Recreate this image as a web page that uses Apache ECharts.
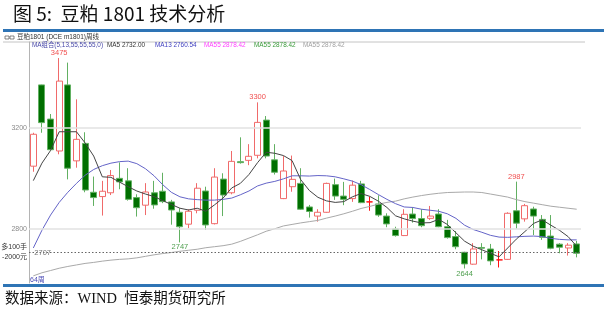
<!DOCTYPE html>
<html><head><meta charset="utf-8">
<script src="https://cdn.jsdelivr.net/npm/echarts@6/dist/echarts.min.js"></script>
<style>html,body{margin:0;padding:0;background:#fff;}#c{width:607px;height:311px;}</style>
</head><body><div id="c"></div>
<script>
// ---- data (weekly candles, DCE m1801) ----
const categories = Array.from({length: 64}, (_, i) => 'W' + (i + 1));
const opens  = [3048,3369,3234,3108,3369,3069,3138,2945,2928,2943,3000,2990,2924,2894,2943,2949,2907,2866,2819,2874,2950,2821,2997,2943,3066,3071,3091,3230,3073,2920,2967,2980,2887,2851,2866,2975,2930,2920,2978,2907,2899,2851,2800,2774,2859,2841,2842,2859,2809,2770,2708,2661,2727,2721,2678,2680,2872,2840,2879,2838,2772,2740,2725,2741];
const closes = [3174,3220,3113,3384,3040,3154,2954,2924,2949,3011,2986,2917,2884,2946,2895,2908,2875,2809,2870,2961,2816,3005,2934,3067,3062,3087,3221,3088,3024,3029,2996,2878,2869,2866,2980,2930,2917,2973,2904,2907,2855,2820,2774,2858,2841,2813,2851,2809,2766,2730,2662,2721,2724,2674,2678,2862,2823,2892,2851,2767,2724,2728,2736,2704];
const lows   = [3026,3180,3110,3095,2996,3042,2945,2891,2853,2934,2957,2912,2849,2855,2880,2902,2817,2747,2803,2862,2796,2818,2851,2937,3058,3052,3079,3079,3015,2918,2947,2875,2845,2829,2864,2915,2894,2907,2902,2872,2848,2807,2770,2772,2825,2807,2836,2807,2762,2720,2644,2659,2680,2657,2648,2678,2801,2829,2776,2757,2720,2704,2695,2688];
const highs  = [3180,3370,3254,3475,3457,3312,3182,3007,2990,3033,3063,3040,2937,2981,2990,3022,2915,2882,2878,2981,2967,3040,3020,3108,3162,3135,3300,3246,3135,3088,3090,3040,2895,2878,2983,2999,2986,2991,2990,2928,2933,2862,2809,2878,2886,2878,2891,2878,2836,2792,2710,2744,2744,2741,2713,2866,2987,2899,2888,2855,2855,2744,2744,2753];
const ma5  = [2991,3060,3110,3184,3184,3184,3140,3088,3006,3004,2985,2967,2950,2938,2928,2912,2897,2882,2875,2882,2870,2895,2922,2962,2980,3015,3062,3103,3099,3090,3070,2995,2952,2925,2911,2905,2908,2927,2940,2929,2910,2885,2852,2840,2831,2824,2825,2838,2818,2785,2752,2732,2718,2704,2690,2725,2760,2790,2822,2836,2815,2795,2770,2732];
const ma13 = [2725,2795,2855,2905,2945,2980,3012,3035,3050,3060,3066,3068,3058,3038,3010,2975,2945,2927,2919,2916,2914,2914,2917,2922,2935,2950,2970,2981,2988,2998,3010,3010,3009,3011,3010,3006,2998,2989,2975,2956,2936,2917,2900,2887,2885,2878,2874,2870,2860,2842,2815,2798,2787,2775,2768,2767,2769,2771,2772,2770,2763,2759,2757,2757];
const ma55 = [2615,2627,2636,2645,2652,2658,2664,2668,2673,2677,2680,2682,2686,2692,2698,2703,2707,2712,2716,2720,2726,2730,2734,2740,2751,2764,2777,2791,2801,2812,2818,2824,2829,2834,2843,2851,2860,2870,2881,2889,2898,2905,2910,2919,2926,2932,2937,2941,2944,2945,2946,2946,2944,2938,2932,2926,2916,2908,2902,2896,2890,2886,2882,2878];
const yTicks = [3200, 2800];
const refValue = 2707;
const highMarkIdx = [3, 26, 56];
const lowMarkIdx = [17, 50];
const titleText = '图 5:  豆粕 1801 技术分析';
const headerText = '豆粕1801 (DCE m1801)周线';
const legendTexts = ['MA组合(5,13,55,55,55,0)', 'MA5 2732.00', 'MA13 2760.54', 'MA55 2878.42', 'MA55 2878.42', 'MA55 2878.42'];
const refNote = '多100手\n-2000元';
const periodText = '64周';
const sourceText = '数据来源：WIND  恒泰期货研究所';

// ---- chart ----
const chart = echarts.init(document.getElementById('c'), null, {renderer: 'canvas'});
const ohlc = opens.map((o, i) => [o, closes[i], lows[i], highs[i]]);
const small = '"Liberation Sans", "Noto Sans CJK SC", sans-serif';
const legendX = [32, 107, 155, 204, 254, 303];
const legendColors = ['#4848a8', '#333333', '#4040c0', '#ff40ff', '#3a9a3a', '#a0a0a0'];

const graphics = [
  {type: 'text', left: 13, top: 4, style: {text: titleText, font: '19px "Noto Sans CJK SC"', fill: '#111'}},
  {type: 'rect', shape: {x: 3, y: 29, width: 601, height: 3}, style: {fill: '#2e74b5'}},
  {type: 'rect', shape: {x: 5, y: 36, width: 4, height: 3}, style: {fill: 'none', stroke: '#555', lineWidth: 0.7}},
  {type: 'rect', shape: {x: 10, y: 36, width: 4, height: 3}, style: {fill: 'none', stroke: '#555', lineWidth: 0.7}},
  {type: 'text', x: 17, y: 37.5, style: {text: headerText, font: '6.5px ' + small, fill: '#333', verticalAlign: 'middle'}},
  {type: 'line', shape: {x1: 3, y1: 42, x2: 585, y2: 42}, style: {stroke: '#c4c4c4', lineWidth: 1}},
  {type: 'text', x: 30, y: 280, style: {text: periodText, font: '7px ' + small, fill: '#4a4ab5', verticalAlign: 'middle'}},
  {type: 'rect', shape: {x: 3, y: 284, width: 601, height: 3}, style: {fill: '#2e74b5'}},
  {type: 'text', x: 5, y: 299, style: {text: sourceText, font: '14.5px "Liberation Serif", "Noto Sans CJK SC"', fill: '#111', verticalAlign: 'middle'}}
];
legendTexts.forEach((t, i) => {
  graphics.push({type: 'text', x: legendX[i], y: 45.5, style: {text: t, font: '6.4px ' + small, fill: legendColors[i], verticalAlign: 'middle'}});
});

const markLines = yTicks.map(v => ({
  yAxis: v,
  lineStyle: {color: '#e2e2e2', width: 1.5, type: 'solid'},
  label: {show: true, position: 'start', distance: 2, formatter: String(v), color: '#8a8a8a', fontSize: 7, fontFamily: 'Liberation Sans'}
}));
markLines.push({
  yAxis: refValue,
  lineStyle: {color: '#666', width: 1, type: [1.5, 2]},
  label: {show: true, position: 'start', distance: 2, formatter: refNote, color: '#333', fontSize: 7, lineHeight: 10, fontFamily: 'Liberation Sans, Noto Sans CJK SC'}
});

const markPoints = [];
highMarkIdx.forEach(i => markPoints.push({
  coord: [categories[i], highs[i]], value: highs[i],
  label: {position: 'top', distance: 1, color: '#f05050'}
}));
lowMarkIdx.forEach(i => markPoints.push({
  coord: [categories[i], lows[i]], value: lows[i],
  label: {position: 'bottom', distance: 1, color: '#4f9f4f'}
}));
markPoints.push({
  coord: [categories[0], refValue], value: refValue,
  label: {position: 'right', distance: 1, color: '#777'}
});

chart.setOption({
  animation: false,
  backgroundColor: '#fff',
  graphic: graphics,
  grid: {left: 29, right: 26, top: 42, bottom: 28},
  xAxis: {
    type: 'category', data: categories, boundaryGap: true,
    axisLine: {show: false}, axisTick: {show: false}, axisLabel: {show: false}, splitLine: {show: false}
  },
  yAxis: {
    type: 'value', min: 2586.7, max: 3538.4, scale: true,
    axisLine: {show: true, lineStyle: {color: '#b4b4b4', width: 1}},
    axisTick: {show: false}, axisLabel: {show: false}, splitLine: {show: false}
  },
  series: [
    {
      type: 'candlestick', data: ohlc, barWidth: 6.5,
      itemStyle: {
        color: '#ffffff', color0: '#006f00',
        borderColor: '#f06a6a', borderColor0: '#62b062',
        borderColorDoji: '#ff1010', borderWidth: 1
      },
      markLine: {silent: true, symbol: 'none', data: markLines, animation: false},
      markPoint: {
        silent: true, symbol: 'circle', symbolSize: 0,
        itemStyle: {color: 'transparent'},
        label: {show: true, fontSize: 7.5, fontFamily: 'Liberation Sans', formatter: p => String(p.value)},
        data: markPoints, animation: false
      }
    },
    {type: 'line', data: ma55, showSymbol: false, symbol: 'none', lineStyle: {color: '#a9a9a9', width: 1}},
    {type: 'line', data: ma13, showSymbol: false, symbol: 'none', lineStyle: {color: '#6464c8', width: 1}},
    {type: 'line', data: ma5, showSymbol: false, symbol: 'none', lineStyle: {color: '#444444', width: 1}}
  ]
});
</script></body></html>
